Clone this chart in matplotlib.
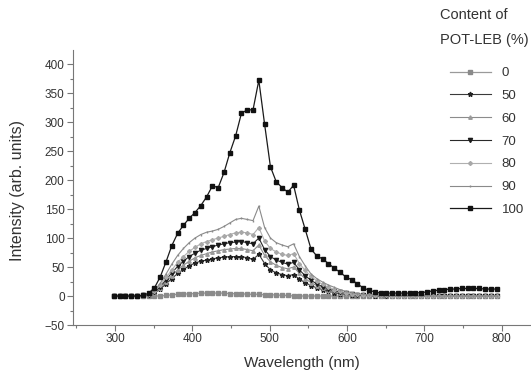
import matplotlib
matplotlib.use("Agg")
import matplotlib.pyplot as plt
from matplotlib.ticker import MultipleLocator

plt.rcParams['font.family'] = ['Liberation Sans', 'DejaVu Sans']

wavelengths = [298.5, 306, 313.5, 321, 328.5, 336, 343.5, 351, 358.5, 366, 373.5, 381, 388.5,
               396, 403.5, 411, 418.5, 426, 433.5, 441, 448.5, 456, 463.5, 471, 478.5, 486,
               493.5, 501, 508.5, 516, 523.5, 531, 538.5, 546, 553.5, 561, 568.5, 576, 583.5,
               591, 598.5, 606, 613.5, 621, 628.5, 636, 643.5, 651, 658.5, 666, 673.5, 681,
               688.5, 696, 703.5, 711, 718.5, 726, 733.5, 741, 748.5, 756, 763.5, 771, 778.5,
               786, 793.5]

s0 = [0, 0, 0, 0, 0, 0, 0, 0, 0, 1, 2, 3, 3, 4, 4, 5, 5, 5, 5, 5, 4, 4, 4, 3, 3, 3,
      2, 2, 2, 1, 1, 0, 0, 0, 0, 0, 0, 0, 0, 0, 0, 0, 0, 0, 0, 0, 0, 0, 0, 0, 0, 0,
      0, 0, 0, 0, 0, 0, 0, 0, 0, 0, 0, 0, 0, 0, 0]
s50 = [0, 0, 0, 0, 0, 1, 2, 5, 12, 21, 30, 39, 46, 52, 57, 60, 62, 64, 66, 67, 68, 68, 68, 66, 63, 72,
       56, 45, 40, 37, 35, 37, 29, 23, 18, 14, 11, 8, 6, 4, 3, 2, 1, 1, 1, 0, 0, 0, 0, 0, 0, 0,
       0, 0, 0, 0, 0, 0, 0, 0, 0, 0, 0, 0, 0, 0, 0]
s60 = [0, 0, 0, 0, 0, 1, 2, 6, 14, 25, 35, 45, 53, 60, 66, 70, 73, 76, 78, 80, 81, 82, 82, 80, 78, 88,
       70, 59, 53, 49, 47, 50, 39, 30, 23, 18, 14, 10, 8, 6, 4, 3, 2, 1, 1, 1, 0, 0, 0, 0, 0, 0,
       0, 0, 0, 0, 0, 0, 0, 0, 0, 0, 0, 0, 0, 0, 0]
s70 = [0, 0, 0, 0, 0, 1, 2, 7, 16, 28, 40, 51, 60, 68, 74, 79, 82, 85, 88, 90, 92, 93, 94, 92, 90, 100,
       80, 68, 62, 58, 55, 58, 45, 35, 27, 21, 16, 12, 9, 7, 5, 3, 2, 2, 1, 1, 1, 0, 0, 0, 0, 0,
       0, 0, 0, 0, 0, 0, 0, 0, 0, 0, 0, 0, 0, 0, 0]
s80 = [0, 0, 0, 0, 0, 1, 3, 8, 19, 32, 45, 58, 68, 77, 84, 90, 94, 97, 100, 103, 106, 109, 110, 109, 106, 118,
       95, 82, 76, 72, 70, 73, 56, 44, 34, 26, 20, 15, 11, 8, 6, 4, 3, 2, 2, 1, 1, 1, 0, 0, 0, 0,
       0, 0, 0, 0, 0, 0, 0, 0, 0, 0, 0, 0, 0, 0, 0]
s90 = [0, 0, 0, 0, 0, 1, 3, 9, 22, 38, 55, 70, 82, 92, 100, 106, 110, 112, 115, 120, 126, 132, 134, 132, 130, 155,
       118, 100, 92, 88, 85, 90, 68, 52, 38, 30, 24, 19, 15, 11, 8, 6, 4, 3, 2, 2, 1, 1, 1, 0, 0, 0,
       0, 0, 0, 0, 0, 0, 0, 0, 0, 0, 0, 0, 0, 0, 0]
s100 = [0, 0, 0, 0, 0, 1, 5, 14, 33, 59, 87, 108, 122, 134, 144, 156, 171, 190, 187, 213, 247, 276, 315, 321, 321, 372,
        296, 223, 197, 187, 179, 191, 148, 115, 81, 69, 64, 56, 48, 41, 33, 28, 21, 14, 10, 7, 5, 5, 5, 5, 5, 5,
        5, 6, 7, 9, 10, 11, 12, 12, 13, 13, 13, 13, 12, 12, 12]

labels = ["0", "50", "60", "70", "80", "90", "100"]
series = [s0, s50, s60, s70, s80, s90, s100]
styles = [
    dict(color="#9a9a9a", marker="s", ms=2.5, mfc="#8a8a8a", mec="#8a8a8a", lw=0.9),
    dict(color="#3a3a3a", marker="*", ms=3.5, mfc="#222222", mec="#222222", lw=0.8),
    dict(color="#8c8c8c", marker="^", ms=2.5, mfc="#9a9a9a", mec="#9a9a9a", lw=0.8),
    dict(color="#2a2a2a", marker="v", ms=3.0, mfc="#1a1a1a", mec="#1a1a1a", lw=0.8),
    dict(color="#b0b0b0", marker="D", ms=2.0, mfc="#a8a8a8", mec="#a8a8a8", lw=0.8),
    dict(color="#8a8a8a", marker="|", ms=2.0, mfc="#8a8a8a", mec="#8a8a8a", lw=0.8),
    dict(color="#1a1a1a", marker="s", ms=3.4, mfc="#111111", mec="#111111", lw=0.9),
]

fig = plt.figure(figsize=(5.31, 3.72), dpi=100)
ax = fig.add_axes([0.1375, 0.1263, 0.8625, 0.739])

for lab, ys, st in zip(labels, series, styles):
    ax.plot(wavelengths, ys, label=lab, **st)

ax.set_xlim(245.7, 838)
ax.set_ylim(-50, 424)
ax.xaxis.set_major_locator(MultipleLocator(100))
ax.xaxis.set_minor_locator(MultipleLocator(50))
ax.yaxis.set_major_locator(MultipleLocator(50))
ax.yaxis.set_minor_locator(MultipleLocator(25))
for sp in ["top", "right"]:
    ax.spines[sp].set_visible(False)
for sp in ["left", "bottom"]:
    ax.spines[sp].set_color("#777777")
    ax.spines[sp].set_linewidth(0.8)
ax.tick_params(which="major", direction="out", length=4, width=0.8, color="#777777",
               labelsize=8.5, labelcolor="#333333", pad=2)
ax.tick_params(which="minor", direction="out", length=2.5, width=0.8, color="#777777")

ax.set_xlabel("Wavelength (nm)", fontsize=11, color="#333333", va="top")
ax.xaxis.set_label_coords(0.5, -0.113)
ax.set_ylabel("Intensity (arb. units)", fontsize=11.5, color="#333333")
ax.yaxis.set_label_coords(-0.105, 0.49)

# legend title as two text lines
fig.text(440 / 531, 1 - 15 / 372, "Content of", fontsize=10.5, color="#333333",
         ha="left", va="center")
fig.text(440 / 531, 1 - 40 / 372, "POT-LEB (%)", fontsize=10.5, color="#333333",
         ha="left", va="center")

leg = ax.legend(loc="upper left",
                bbox_to_anchor=(450 / 531, 1 - 67 / 372), bbox_transform=fig.transFigure,
                frameon=False, fontsize=9.5, handlelength=3.1,
                labelspacing=0.8, handletextpad=0.8, borderaxespad=0, borderpad=0)
for t in leg.get_texts():
    t.set_color("#333333")

fig.savefig("out.png", dpi=100)
